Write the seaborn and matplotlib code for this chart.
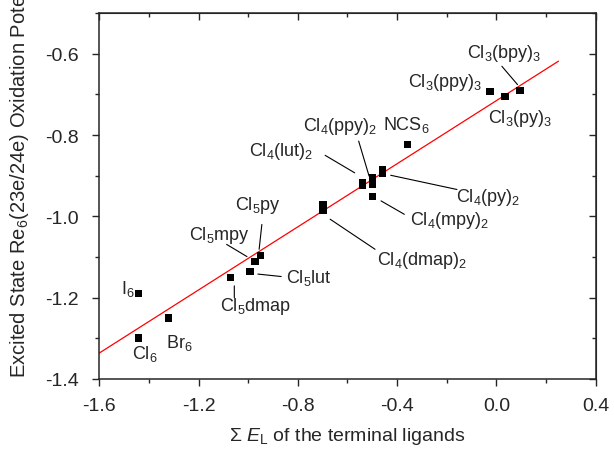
import numpy as np
import pandas as pd
import matplotlib
matplotlib.use("Agg")
import matplotlib.pyplot as plt
import seaborn as sns

# values
complex_name = ["Cl6", "I6", "Br6", "Cl5dmap", "Cl5lut", "Cl5mpy", "Cl5py",
                "Cl4(dmap)2", "Cl4(dmap)2", "Cl4(lut)2", "Cl4(lut)2",
                "Cl4(ppy)2", "Cl4(ppy)2", "Cl4(py)2", "Cl4(py)2", "Cl4(mpy)2",
                "NCS6", "Cl3(ppy)3", "Cl3(py)3", "Cl3(bpy)3"]
ligand_sum = [-1.441, -1.441, -1.320, -1.072, -0.993, -0.973, -0.951,
              -0.698, -0.698, -0.539, -0.539,
              -0.498, -0.498, -0.458, -0.458, -0.498,
              -0.357, -0.026, 0.035, 0.095]
potential = [-1.299, -1.189, -1.250, -1.151, -1.135, -1.111, -1.096,
             -0.971, -0.986, -0.916, -0.923,
             -0.906, -0.921, -0.885, -0.894, -0.952,
             -0.823, -0.693, -0.705, -0.690]

# linear fit shown in red
fit_slope = 0.388
fit_intercept = -0.7154
fit_range = [-1.6, 0.25]

x_ticks = [-1.6, -1.2, -0.8, -0.4, 0.0, 0.4]
x_ticklabels = ["-1.6", "-1.2", "-0.8", "-0.4", "0.0", "0.4"]
y_ticks = [-1.4, -1.2, -1.0, -0.8, -0.6]
y_ticklabels = ["-1.4", "-1.2", "-1.0", "-0.8", "-0.6"]

# label text, label centre, leader line (start -> end) or None
labels = [
    ("Cl$_3$(bpy)$_3$", (0.030, -0.598), ((0.022, -0.631), (0.085, -0.676))),
    ("Cl$_3$(ppy)$_3$", (-0.206, -0.668), None),
    ("Cl$_3$(py)$_3$", (0.096, -0.758), None),
    ("NCS$_6$", (-0.363, -0.774), None),
    ("Cl$_4$(ppy)$_2$", (-0.628, -0.776), ((-0.555, -0.815), (-0.513, -0.901))),
    ("Cl$_4$(lut)$_2$", (-0.867, -0.838), ((-0.690, -0.850), (-0.571, -0.893))),
    ("Cl$_4$(py)$_2$", (-0.033, -0.950), ((-0.426, -0.899), (-0.159, -0.934))),
    ("Cl$_4$(mpy)$_2$", (-0.190, -1.007), ((-0.465, -0.962), (-0.371, -0.995))),
    ("Cl$_4$(dmap)$_2$", (-0.300, -1.105), ((-0.670, -1.007), (-0.489, -1.081))),
    ("Cl$_5$py", (-0.961, -0.971), ((-0.945, -1.020), (-0.956, -1.081))),
    ("Cl$_5$mpy", (-1.118, -1.044), ((-1.087, -1.069), (-1.005, -1.099))),
    ("Cl$_5$lut", (-0.757, -1.150), ((-0.961, -1.142), (-0.867, -1.148))),
    ("Cl$_5$dmap", (-0.969, -1.220), ((-1.056, -1.171), (-1.056, -1.200))),
    ("I$_6$", (-1.484, -1.175), None),
    ("Br$_6$", (-1.276, -1.310), None),
    ("Cl$_6$", (-1.417, -1.335), None),
]

sns.set_style("ticks")
plt.rcParams["font.family"] = ["Liberation Sans", "DejaVu Sans"]
plt.rcParams["mathtext.fontset"] = "custom"
plt.rcParams["mathtext.rm"] = "Liberation Sans"
plt.rcParams["mathtext.it"] = "Liberation Sans:italic"
plt.rcParams["mathtext.default"] = "regular"

df = pd.DataFrame({"complex": complex_name, "sum_EL": ligand_sum, "E": potential})
fit_x = np.array(fit_range)
fit_df = pd.DataFrame({"x": fit_x, "y": fit_intercept + fit_slope * fit_x})

fig = plt.figure(figsize=(6.14, 4.52), dpi=100)
ax = fig.add_axes([0.1617, 0.1593, 0.8085, 0.8097])

sns.lineplot(data=fit_df, x="x", y="y", color="red", lw=0.9, ax=ax, zorder=2)
sns.scatterplot(data=df, x="sum_EL", y="E", marker="s", s=28, color="black",
                edgecolor="none", linewidth=0, ax=ax, zorder=3)

for text, pos, line in labels:
    ax.text(pos[0], pos[1], text, fontsize=13, ha="center", va="center")
    if line is not None:
        ax.annotate("", xy=line[1], xytext=line[0],
                    arrowprops=dict(arrowstyle="-", color="black", lw=0.8,
                                    shrinkA=0, shrinkB=0))

ax.set_xlim(-1.6, 0.4)
ax.set_ylim(-1.4, -0.5)
ax.set_xticks(x_ticks)
ax.set_xticks(np.arange(-1.6, 0.41, 0.2), minor=True)
ax.set_yticks(y_ticks)
ax.set_yticks(np.arange(-1.4, -0.49, 0.1), minor=True)
ax.set_xticklabels(x_ticklabels)
ax.set_yticklabels(y_ticklabels)
ax.tick_params(which="major", direction="out", length=5, width=1, labelsize=14)
ax.tick_params(which="minor", direction="out", length=3, width=1)
ax.tick_params(axis="y", which="major", pad=10)
ax.tick_params(axis="x", which="major", pad=8)
for sp in ax.spines.values():
    sp.set_linewidth(1.1)
    sp.set_visible(True)

top = ax.secondary_xaxis("top")
top.set_xticks(x_ticks)
top.set_xticks(np.arange(-1.6, 0.41, 0.2), minor=True)
top.tick_params(which="both", direction="in", labeltop=False, width=1)
top.tick_params(which="major", length=5)
top.tick_params(which="minor", length=3)
right = ax.secondary_yaxis("right")
right.set_yticks(y_ticks)
right.set_yticks(np.arange(-1.4, -0.49, 0.1), minor=True)
right.tick_params(which="both", direction="in", labelright=False, width=1)
right.tick_params(which="major", length=5)
right.tick_params(which="minor", length=3)

ax.set_xlabel("")
ax.set_ylabel("")
fig.text(0.566, 0.024, r"$\Sigma$ $\it{E}_\mathrm{L}$ of the terminal ligands",
         ha="center", va="baseline", fontsize=14)
fig.text(0.031, 0.164, "Excited State Re$_6$(23e/24e) Oxidation Potential (V)",
         rotation=90, ha="center", va="bottom", fontsize=14.5)

fig.savefig("out.png", dpi=100)
